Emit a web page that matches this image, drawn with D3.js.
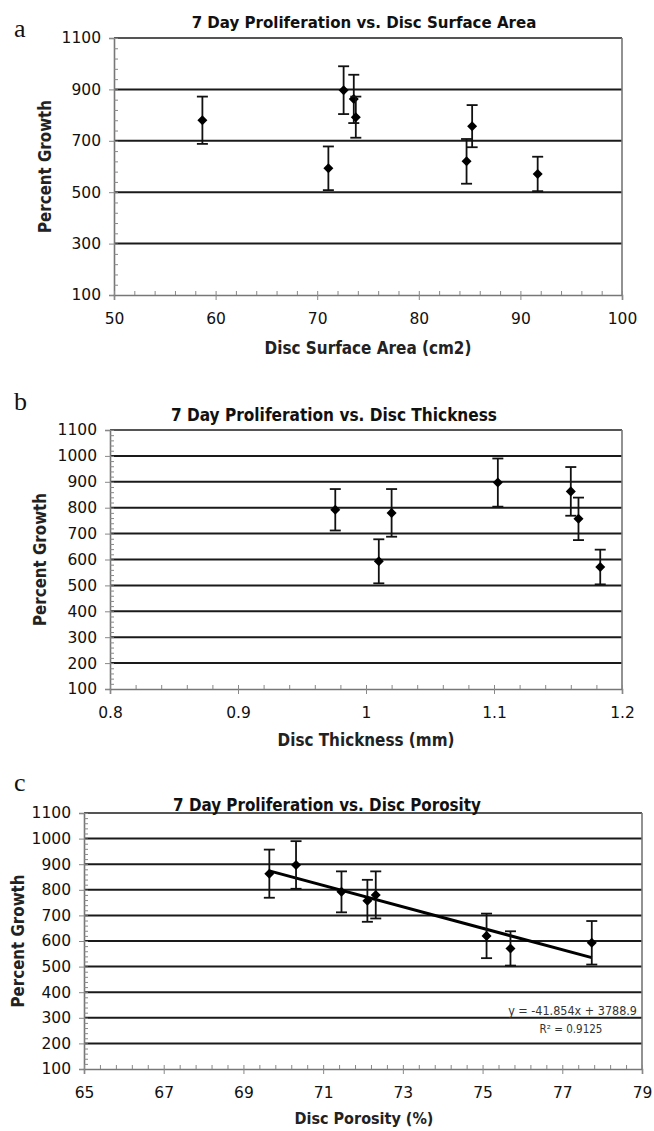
<!DOCTYPE html>
<html>
<head>
<meta charset="utf-8">
<script src="https://cdn.jsdelivr.net/npm/d3@7"></script>
<style>
  html, body { margin: 0; padding: 0; background: #fff; }
  svg text { font-family: "DejaVu Sans Condensed", "DejaVu Sans", sans-serif; }
</style>
</head>
<body>
<div class="figure"></div>
<script>
(function () {
  'use strict';

  // one entry per disc (same order in every panel)
  var growth = [780, 593, 897, 863, 792, 620, 757, 571];
  var growthErr = [92, 85, 93, 94, 80, 87, 82, 67];
  var surfaceArea = [58.7, 71.1, 72.6, 73.6, 73.8, 84.7, 85.25, 91.7];
  var thickness = [1.020, 1.010, 1.103, 1.160, 0.976, null, 1.166, 1.183];
  var porosity = [72.32, 77.74, 70.32, 69.65, 71.46, 75.1, 72.11, 75.7];

  var areaTicks = [50, 60, 70, 80, 90, 100];
  var thickTicks = [0.8, 0.9, 1, 1.1, 1.2];
  var porosityTicks = [65, 67, 69, 71, 73, 75, 77, 79];
  var growthTicksA = [100, 300, 500, 700, 900, 1100];
  var growthTicksB = [100, 200, 300, 400, 500, 600, 700, 800, 900, 1000, 1100];

  // trendline shown on panel c
  var trendSlope = -41.854;
  var trendIntercept = 3788.9;
  var trendR2 = 0.9125;

  var W = 654, H = 1131;
  var svg = d3.select(".figure").append("svg").attr("width", W).attr("height", H);

  function range(a, b, step) {
    var out = [];
    for (var v = a; v <= b + step / 1000; v += step) out.push(+v.toFixed(4));
    return out;
  }

  // scale font so the text gets the width it has in the picture
  function fitWidth(t, w) {
    var fs = parseFloat(t.style("font-size"));
    var len = t.node().getComputedTextLength();
    if (len > 0) t.style("font-size", (fs * w / len).toFixed(2) + "px");
    return t;
  }

  function drawPanel(c) {
    var g = svg.append("g");
    var x = d3.scaleLinear().domain(d3.extent(c.xTicks)).range([c.left, c.right]);
    var y = d3.scaleLinear().domain([100, 1100]).range([c.bottom, c.top]);

    // gridlines
    g.selectAll(".grid").data(c.yTicks.slice(1)).enter().append("line")
      .attr("x1", c.left).attr("x2", c.right)
      .attr("y1", function (d) { return y(d); }).attr("y2", function (d) { return y(d); })
      .style("stroke", function (d, i) { return i === c.yTicks.length - 2 ? "#555" : "#1a1a1a"; })
      .style("stroke-width", 2);

    // right border
    g.append("line").attr("x1", c.right).attr("x2", c.right).attr("y1", c.top).attr("y2", c.bottom)
      .style("stroke", "#777").style("stroke-width", 1.6);

    // y axis
    var yAxis = g.append("g").attr("transform", "translate(" + c.left + ",0)")
      .call(d3.axisLeft(y).tickValues(c.yTicks).tickSize(5).tickPadding(8).tickFormat(d3.format("d")));
    g.append("g").attr("transform", "translate(" + c.left + ",0)")
      .call(d3.axisRight(y).tickValues(range(100, 1100, c.yMinor)).tickSize(4).tickFormat(""))
      .call(function (s) { s.select(".domain").remove(); });

    // x axis
    var xAxis = g.append("g").attr("transform", "translate(0," + c.bottom + ")")
      .call(d3.axisBottom(x).tickValues(c.xTicks).tickSize(5).tickPadding(13)
        .tickFormat(function (d) { return String(+d.toFixed(2)); }));
    g.append("g").attr("transform", "translate(0," + c.bottom + ")")
      .call(d3.axisTop(x).tickValues(range(c.xTicks[0], c.xTicks[c.xTicks.length - 1], c.xMinor)).tickSize(4).tickFormat(""))
      .call(function (s) { s.select(".domain").remove(); });

    svg.selectAll(".domain").style("stroke", "#777").style("stroke-width", 1.6);
    svg.selectAll(".tick line").style("stroke", "#888");
    [yAxis, xAxis].forEach(function (a) {
      a.selectAll("text").style("font-family", "'DejaVu Sans', sans-serif")
        .style("font-size", "15.5px").style("fill", "#111");
    });

    // trendline
    if (c.trend) {
      var ext = d3.extent(c.xs.filter(function (v) { return v != null; }));
      g.append("line")
        .attr("x1", x(ext[0])).attr("y1", y(trendSlope * ext[0] + trendIntercept))
        .attr("x2", x(ext[1])).attr("y2", y(trendSlope * ext[1] + trendIntercept))
        .style("stroke", "#000").style("stroke-width", 3);
    }

    // points with error bars
    var pts = c.xs.map(function (v, i) { return { x: v, y: growth[i], e: growthErr[i] }; })
      .filter(function (d) { return d.x != null; });
    var pg = g.selectAll(".pt").data(pts).enter().append("g");
    pg.append("line")
      .attr("x1", function (d) { return x(d.x); }).attr("x2", function (d) { return x(d.x); })
      .attr("y1", function (d) { return y(d.y - d.e); }).attr("y2", function (d) { return y(d.y + d.e); })
      .style("stroke", "#111").style("stroke-width", 1.8);
    [-1, 1].forEach(function (s) {
      pg.append("line")
        .attr("x1", function (d) { return x(d.x) - 5.5; }).attr("x2", function (d) { return x(d.x) + 5.5; })
        .attr("y1", function (d) { return y(d.y + s * d.e); }).attr("y2", function (d) { return y(d.y + s * d.e); })
        .style("stroke", "#111").style("stroke-width", 1.8);
    });
    pg.append("path")
      .attr("d", d3.symbol().type(d3.symbolDiamond2).size(64))
      .attr("transform", function (d) { return "translate(" + x(d.x) + "," + y(d.y) + ")"; })
      .style("fill", "#000");

    // texts
    svg.append("text").attr("x", c.letterX).attr("y", c.letterY).text(c.letter)
      .style("font-family", "'Liberation Serif', serif").style("font-size", "26px").style("fill", "#111");
    fitWidth(svg.append("text").attr("x", c.titleX).attr("y", c.titleY).attr("text-anchor", "middle")
      .text(c.title).style("font-size", "15px").style("font-weight", "bold").style("fill", "#111"), c.titleW);
    fitWidth(svg.append("text").attr("x", c.xTitleX).attr("y", c.xTitleY).attr("text-anchor", "middle")
      .text(c.xTitle).style("font-size", "16px").style("font-weight", "bold").style("fill", "#222"), c.xTitleW);
    fitWidth(svg.append("text").attr("transform", "translate(" + c.yTitleX + "," + (c.top + c.bottom) / 2 + ") rotate(-90)")
      .attr("text-anchor", "middle").text("Percent Growth")
      .style("font-size", "16px").style("font-weight", "bold").style("fill", "#222"), 133);

    if (c.trend) {
      fitWidth(svg.append("text").attr("x", 637).attr("y", 1015).attr("text-anchor", "end")
        .text("y = " + trendSlope + "x + " + trendIntercept)
        .style("font-size", "11px").style("fill", "#333"), 129);
      svg.append("text").attr("x", 571).attr("y", 1033).attr("text-anchor", "middle")
        .text("R\u00b2 = " + trendR2)
        .style("font-size", "11.5px").style("fill", "#333");
    }
  }

  drawPanel({
    letter: "a", letterX: 14, letterY: 37,
    title: "7 Day Proliferation vs. Disc Surface Area", titleX: 364, titleY: 28, titleW: 345,
    xTitle: "Disc Surface Area (cm2)", xTitleX: 368, xTitleY: 354, xTitleW: 207, yTitleX: 51,
    left: 114, right: 622, top: 38, bottom: 295,
    xTicks: areaTicks, xMinor: 2, yTicks: growthTicksA, yMinor: 40,
    xs: surfaceArea
  });

  drawPanel({
    letter: "b", letterX: 14, letterY: 410,
    title: "7 Day Proliferation vs. Disc Thickness", titleX: 334, titleY: 421, titleW: 326,
    xTitle: "Disc Thickness (mm)", xTitleX: 366, xTitleY: 746, xTitleW: 177, yTitleX: 46,
    left: 110, right: 622, top: 430, bottom: 689,
    xTicks: thickTicks, xMinor: 0.02, yTicks: growthTicksB, yMinor: 20,
    xs: thickness
  });

  drawPanel({
    letter: "c", letterX: 14, letterY: 791,
    title: "7 Day Proliferation vs. Disc Porosity", titleX: 327, titleY: 811, titleW: 308,
    xTitle: "Disc Porosity (%)", xTitleX: 364, xTitleY: 1124, xTitleW: 139, yTitleX: 24,
    left: 84, right: 642, top: 813, bottom: 1069,
    xTicks: porosityTicks, xMinor: 0.4, yTicks: growthTicksB, yMinor: 20,
    xs: porosity, trend: true
  });
})();
</script>
</body>
</html>
